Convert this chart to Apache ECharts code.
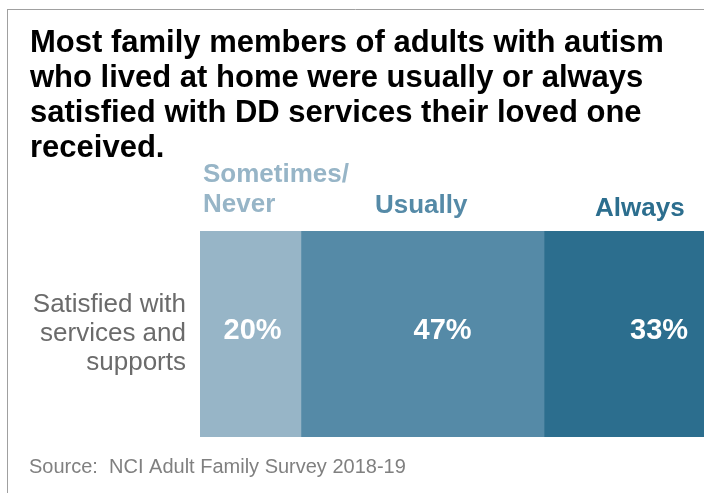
<!DOCTYPE html>
<html><head><meta charset="utf-8">
<script src="https://cdn.jsdelivr.net/npm/echarts@6/dist/echarts.min.js"></script>
<style>html,body{margin:0;padding:0;background:#fff}#c{width:704px;height:493px}</style>
</head><body><div id="c"></div>
<script>
const titleText = 'Most family members of adults with autism\nwho lived at home were usually or always\nsatisfied with DD services their loved one\nreceived.';
const categories = ['Satisfied with\nservices and\nsupports'];
const seriesNames = ['Sometimes/\nNever', 'Usually', 'Always'];
const seriesValues = [19.6, 47.1, 33.3];
const valueLabels = ['20%', '47%', '33%'];
const sourceText = 'Source:  NCI Adult Family Survey 2018-19';

const colors = ['#97b5c7', '#558aa7', '#2c6e8e'];
const labelOffsets = [[2, -3], [20, -3], [35, -3]];
const headerPos = [[203, 160], [375, 191], [595, 194]];

const chart = echarts.init(document.getElementById('c'));
const series = seriesNames.map((n, i) => ({
  name: n, type: 'bar', stack: 'total', barWidth: '100%',
  data: [seriesValues[i]],
  itemStyle: { color: colors[i] },
  label: {
    show: true, position: 'inside', offset: labelOffsets[i],
    formatter: () => valueLabels[i],
    color: '#fff', fontSize: 29, fontWeight: 'bold', fontFamily: 'Liberation Sans, Arial, sans-serif'
  }
}));
const graphics = [
  { type: 'line', shape: { x1: 7, y1: 9.5, x2: 704, y2: 9.5 }, style: { stroke: '#a0a0a0', lineWidth: 1 } },
  { type: 'line', shape: { x1: 7.5, y1: 9, x2: 7.5, y2: 493 }, style: { stroke: '#a0a0a0', lineWidth: 1 } },
  { type: 'text', left: 29, top: 457, style: { text: sourceText, fill: '#808080', font: '20px "Liberation Sans", Arial, sans-serif' } }
];
seriesNames.forEach((n, i) => {
  graphics.push({ type: 'text', left: headerPos[i][0], top: headerPos[i][1],
    style: { text: n, fill: colors[i], font: 'bold 26px "Liberation Sans", Arial, sans-serif', lineHeight: 30 } });
});
chart.setOption({
  animation: false,
  title: {
    text: titleText, left: 25, top: 21,
    textStyle: { fontSize: 31, fontWeight: 'bold', color: '#000', lineHeight: 35, fontFamily: 'Liberation Sans, Arial, sans-serif' }
  },
  grid: { left: 200, right: 0, top: 231, bottom: 56 },
  xAxis: { type: 'value', min: 0, max: 97.7, show: false },
  yAxis: {
    type: 'category', data: categories,
    axisLine: { show: false }, axisTick: { show: false },
    axisLabel: { fontSize: 26, lineHeight: 29, color: '#6b6b6b', margin: 14, padding: [0, 0, 8, 0], fontFamily: 'Liberation Sans, Arial, sans-serif', align: 'right' }
  },
  series: series,
  graphic: graphics
});
</script></body></html>
